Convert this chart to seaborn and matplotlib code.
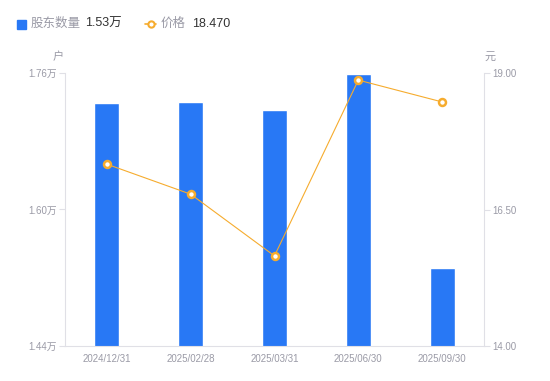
import matplotlib
matplotlib.use("Agg")
from matplotlib import pyplot as plt
from matplotlib.lines import Line2D
from matplotlib.patches import Rectangle
import pandas as pd
import seaborn as sns

# Data
dates = ["2024/12/31", "2025/02/28", "2025/03/31", "2025/06/30", "2025/09/30"]
holders = [1.7245, 1.726, 1.717, 1.7585, 1.532]  # 万户
prices = [17.33, 16.78, 15.65, 18.87, 18.47]  # 元

left_ticks = [1.44, 1.60, 1.76]
right_ticks = [14.00, 16.50, 19.00]

BLUE = "#2878f5"
ORANGE = "#f6ac2e"
GREY = "#9a9aa6"
AXIS = "#e0e0e6"

sns.set_style("white")
plt.rcParams["font.family"] = ["Liberation Sans", "Noto Sans CJK SC", "DejaVu Sans"]

df = pd.DataFrame({"date": dates, "holders": holders, "price": prices})

fig = plt.figure(figsize=(5.5, 3.81), dpi=100)
W, H = 550, 381
ax = fig.add_axes([65 / W, (H - 346) / H, 419 / W, 273 / H])

# Bars: number of shareholders
sns.barplot(data=df, x="date", y="holders", color=BLUE, width=0.3,
            saturation=1, ax=ax)
ax.set_ylim(left_ticks[0], left_ticks[-1])
ax.set_yticks(left_ticks)
ax.set_yticklabels([f"{t:.2f}万" for t in left_ticks])
ax.set_xlabel("")
ax.set_ylabel("")

# Line: price on secondary axis
ax2 = ax.twinx()
ax2.plot(range(len(dates)), df["price"], color=ORANGE, linewidth=0.8,
         marker="o", markersize=5, markerfacecolor="white",
         markeredgecolor=ORANGE, markeredgewidth=1.8)
ax2.set_ylim(right_ticks[0], right_ticks[-1])
ax2.set_yticks(right_ticks)
ax2.set_yticklabels([f"{t:.2f}" for t in right_ticks])
ax.set_xlim(-0.5, len(dates) - 0.5)

# Axis styling
for a in (ax, ax2):
    for s in a.spines.values():
        s.set_visible(False)
    a.tick_params(axis="y", colors=AXIS, labelcolor=GREY, labelsize=7,
                  length=4, width=0.8, pad=2)
ax.spines["left"].set_visible(True)
ax.spines["left"].set_color(AXIS)
ax.spines["bottom"].set_visible(True)
ax.spines["bottom"].set_color(AXIS)
ax2.spines["right"].set_visible(True)
ax2.spines["right"].set_color(AXIS)
ax.tick_params(axis="x", length=0, labelcolor=GREY, labelsize=7, pad=6)

# Unit labels
fig.text(58 / W, 1 - 57 / H, "户", color=GREY, fontsize=8, ha="center", va="center")
fig.text(490 / W, 1 - 57 / H, "元", color=GREY, fontsize=8, ha="center", va="center")

# Legend
ly = 1 - 24 / H
fig.add_artist(Rectangle((17 / W, 1 - 28.5 / H), 9 / W, 9 / H,
                         transform=fig.transFigure, color=BLUE))
fig.text(31 / W, ly, "股东数量", color=GREY, fontsize=9, va="center")
fig.text(85 / W, ly, f"{holders[-1]:.2f}万", color="#333333", fontsize=9, va="center")
fig.add_artist(Line2D([145 / W, 156 / W], [ly, ly], transform=fig.transFigure,
                      color=ORANGE, linewidth=1.2))
fig.add_artist(Line2D([150.5 / W], [ly], transform=fig.transFigure,
                      color=ORANGE, marker="o", markersize=4.5,
                      markerfacecolor="white", markeredgecolor=ORANGE,
                      markeredgewidth=1.5))
fig.text(161 / W, ly, "价格", color=GREY, fontsize=9, va="center")
fig.text(192 / W, ly, f"{prices[-1]:.3f}", color="#333333", fontsize=9, va="center")

fig.savefig("out.png", dpi=100)
